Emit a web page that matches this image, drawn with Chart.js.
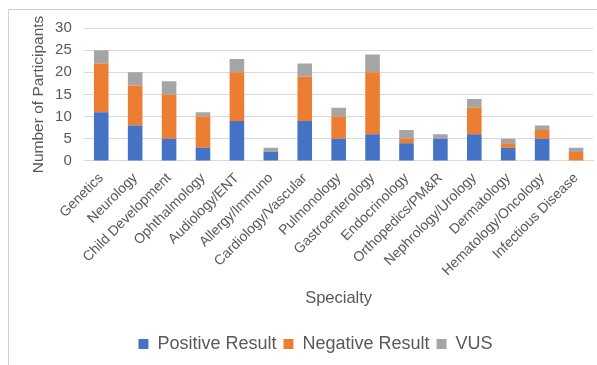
<!DOCTYPE html>
<html>
<head>
<meta charset="utf-8">
<script src="https://cdn.jsdelivr.net/npm/chart.js@4.4.1/dist/chart.umd.min.js"></script>
<style>
  html, body { margin: 0; padding: 0; background: #fff; overflow: hidden; }
  #wrap { position: relative; width: 597px; height: 365px; }
  #frame { position: absolute; left: 8px; top: 9px; width: 600px; height: 370px; border: 1px solid #d0d0d0; box-sizing: border-box; }
  #specialtyChart { position: absolute; left: 0; top: 0; }
</style>
</head>
<body>
<div id="wrap">
  <div id="frame"></div>
  <canvas id="specialtyChart" width="597" height="365"></canvas>
</div>
<script>
var specialties = ['Genetics', 'Neurology', 'Child Development', 'Ophthalmology', 'Audiology/ENT',
    'Allergy/Immuno', 'Cardiology/Vascular', 'Pulmonology', 'Gastroenterology', 'Endocrinology',
    'Orthopedics/PM&R', 'Nephrology/Urology', 'Dermatology', 'Hematology/Oncology', 'Infectious Disease'];
var positiveResult = [11, 8, 5, 3, 9, 2, 9, 5, 6, 4, 5, 6, 3, 5, 0];
var negativeResult = [11, 9, 10, 7, 11, 0, 10, 5, 14, 1, 0, 6, 1, 2, 2];
var vusResult = [3, 3, 3, 1, 3, 1, 3, 2, 4, 2, 1, 2, 1, 1, 1];
var yTicks = [0, 5, 10, 15, 20, 25, 30];

document.addEventListener('DOMContentLoaded', function () {
    var ctx = document.getElementById('specialtyChart').getContext('2d');
    var textColor = '#595959';
    var fontFamily = '"Liberation Sans", Arial, sans-serif';

    // Excel centres the legend a bit right of the canvas centre
    var legendShift = {
        id: 'legendShift',
        afterLayout: function (chart) {
            if (chart.legend) {
                chart.legend.left += 18;
                chart.legend.right += 18;
            }
        }
    };

    var specialtyChart = new Chart(ctx, {
        type: 'bar',
        data: {
            labels: specialties,
            datasets: [{
                label: 'Positive Result',
                data: positiveResult,
                backgroundColor: '#4472C4'
            }, {
                label: 'Negative Result',
                data: negativeResult,
                backgroundColor: '#ED7D31'
            }, {
                label: 'VUS',
                data: vusResult,
                backgroundColor: '#A5A5A5'
            }]
        },
        options: {
            responsive: false,
            animation: false,
            layout: {
                padding: { left: 0, right: 2, top: 28, bottom: 2 }
            },
            datasets: {
                bar: { categoryPercentage: 1, barPercentage: 0.43 }
            },
            plugins: {
                legend: {
                    position: 'bottom',
                    labels: {
                        color: textColor,
                        font: { family: fontFamily, size: 18 },
                        boxWidth: 10,
                        boxHeight: 10,
                        padding: 7
                    }
                },
                tooltip: { enabled: false }
            },
            scales: {
                x: {
                    stacked: true,
                    grid: { display: false, drawTicks: false },
                    border: { color: '#d9d9d9' },
                    ticks: {
                        color: textColor,
                        font: { family: fontFamily, size: 14 },
                        maxRotation: 45,
                        minRotation: 45,
                        autoSkip: false,
                        padding: 9
                    },
                    title: {
                        display: true,
                        text: 'Specialty',
                        color: textColor,
                        font: { family: fontFamily, size: 16.5 },
                        padding: { top: 0, bottom: 20 }
                    }
                },
                y: {
                    stacked: true,
                    min: 0,
                    max: 30,
                    afterBuildTicks: function (scale) {
                        scale.ticks = yTicks.map(function (v) { return { value: v }; });
                    },
                    grid: { color: '#d9d9d9', drawTicks: false },
                    border: { display: false },
                    ticks: {
                        color: textColor,
                        font: { family: fontFamily, size: 15 },
                        padding: 12.5
                    },
                    title: {
                        display: true,
                        text: 'Number of Participants',
                        color: textColor,
                        font: { family: fontFamily, size: 15.5 },
                        padding: { top: 29.5, bottom: -5.5 }
                    }
                }
            }
        },
        plugins: [legendShift]
    });
});
</script>
</body>
</html>
